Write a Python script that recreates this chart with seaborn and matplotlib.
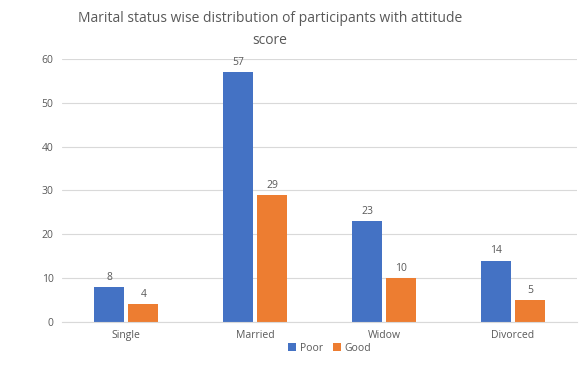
import numpy as np
import pandas as pd
import matplotlib.pyplot as plt
import seaborn as sns

# data
status = ['Single', 'Married', 'Widow', 'Divorced']
poor = [8, 57, 23, 14]
good = [4, 29, 10, 5]

sns.set_style("white")
plt.rcParams['font.family'] = ['Open Sans', 'DejaVu Sans']

df = pd.DataFrame({
    'status': status * 2,
    'count': poor + good,
    'attitude': ['Poor'] * len(poor) + ['Good'] * len(good),
})

grey = '#595959'
fig = plt.figure(figsize=(5.79, 3.80), dpi=100)
ax = fig.add_axes([0.107, 0.153, 0.89, 0.692])

sns.barplot(data=df, x='status', y='count', hue='attitude',
            palette={'Poor': '#4472C4', 'Good': '#ED7D31'}, saturation=1,
            width=0.53, gap=0.12, linewidth=0, ax=ax, errorbar=None)

for c in ax.containers:
    ax.bar_label(c, fontsize=7.5, color=grey, padding=3)

ax.set_ylim(0, 60)
ax.set_yticks(range(0, 61, 10))
ax.yaxis.grid(True, color='#d9d9d9', linewidth=0.8)
ax.set_axisbelow(True)
for s in ['top', 'right', 'left']:
    ax.spines[s].set_visible(False)
ax.spines['bottom'].set_color('#d9d9d9')
ax.tick_params(axis='both', length=0, labelsize=7.5, colors=grey, pad=6)
ax.set_xlabel('')
ax.set_ylabel('')

ax.legend(loc='center', bbox_to_anchor=(0.52, -0.1), ncol=2, frameon=False,
          fontsize=7.5, labelcolor=grey, handlelength=0.7, handleheight=0.7,
          handletextpad=0.4, columnspacing=1.0)

fig.suptitle('Marital status wise distribution of participants with attitude\nscore',
             x=0.466, y=0.97, fontsize=10, color=grey, linespacing=1.6)

plt.savefig('out.png', dpi=100)
